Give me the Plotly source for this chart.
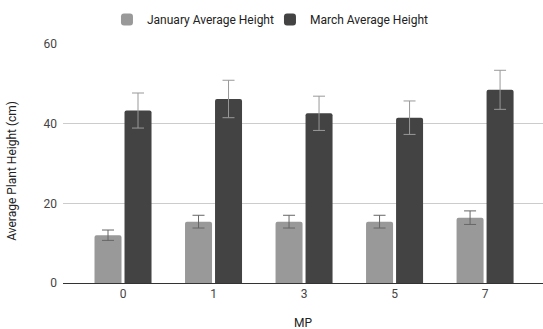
import plotly.graph_objects as go

categories = ["0", "1", "3", "5", "7"]
jan_values = [12.0, 15.4, 15.4, 15.4, 16.4]
jan_errors = [1.3, 1.6, 1.6, 1.6, 1.7]
mar_values = [43.3, 46.2, 42.6, 41.5, 48.5]
mar_errors = [4.4, 4.7, 4.3, 4.2, 4.9]
y_ticks = [0, 20, 40, 60]

font_family = "Roboto, Liberation Sans, Arial, sans-serif"

fig = go.Figure()
fig.add_trace(go.Bar(
    name="January Average Height", x=categories, y=jan_values,
    marker=dict(color="#999999", line=dict(width=0)),
    error_y=dict(type="data", array=jan_errors, visible=True,
                 color="#666666", thickness=1, width=6),
))
fig.add_trace(go.Bar(
    name="March Average Height", x=categories, y=mar_values,
    marker=dict(color="#434343", line=dict(width=0)),
    error_y=dict(type="data", array=mar_errors, visible=True,
                 color="#999999", thickness=1, width=6),
))

fig.update_layout(
    width=543, height=329,
    margin=dict(l=63, r=0, t=44, b=46, autoexpand=False),
    paper_bgcolor="white", plot_bgcolor="white",
    barmode="group", bargap=0.337, bargroupgap=0.1,
    barcornerradius=2,
    font=dict(family=font_family, size=12, color="#444444"),
    showlegend=True,
    legend=dict(orientation="h", xref="container", yref="container",
                x=0.197, xanchor="left", y=0.985, yanchor="top",
                font=dict(size=12, color="#222222"),
                traceorder="normal", entrywidth=118),
    xaxis=dict(
        type="category", range=[-0.663, 4.64], automargin=False,
        showgrid=False, showline=True, linecolor="#333333", linewidth=1,
        ticks="", tickfont=dict(size=12, color="#444444"),
    ),
    yaxis=dict(
        range=[0, 60], tickvals=y_ticks, showgrid=True, gridcolor="#cccccc",
        gridwidth=1, zeroline=False, showline=False, ticks="", automargin=False,
        ticklabelstandoff=5,
        tickfont=dict(size=12, color="#444444"),
    ),
    annotations=[
        dict(text="MP", xref="paper", yref="paper", x=0.5, y=-0.166,
             xanchor="center", yanchor="middle", showarrow=False,
             font=dict(size=12, color="#222222")),
        dict(text="Average Plant Height (cm)", xref="paper", yref="paper",
             x=-0.106, y=0.47, xanchor="center", yanchor="middle", textangle=-90,
             showarrow=False, font=dict(size=12, color="#222222")),
    ],
)

fig.write_html("out.html", config={"displayModeBar": False},
               post_script="document.body.style.margin='0';document.body.style.overflow='hidden';")
